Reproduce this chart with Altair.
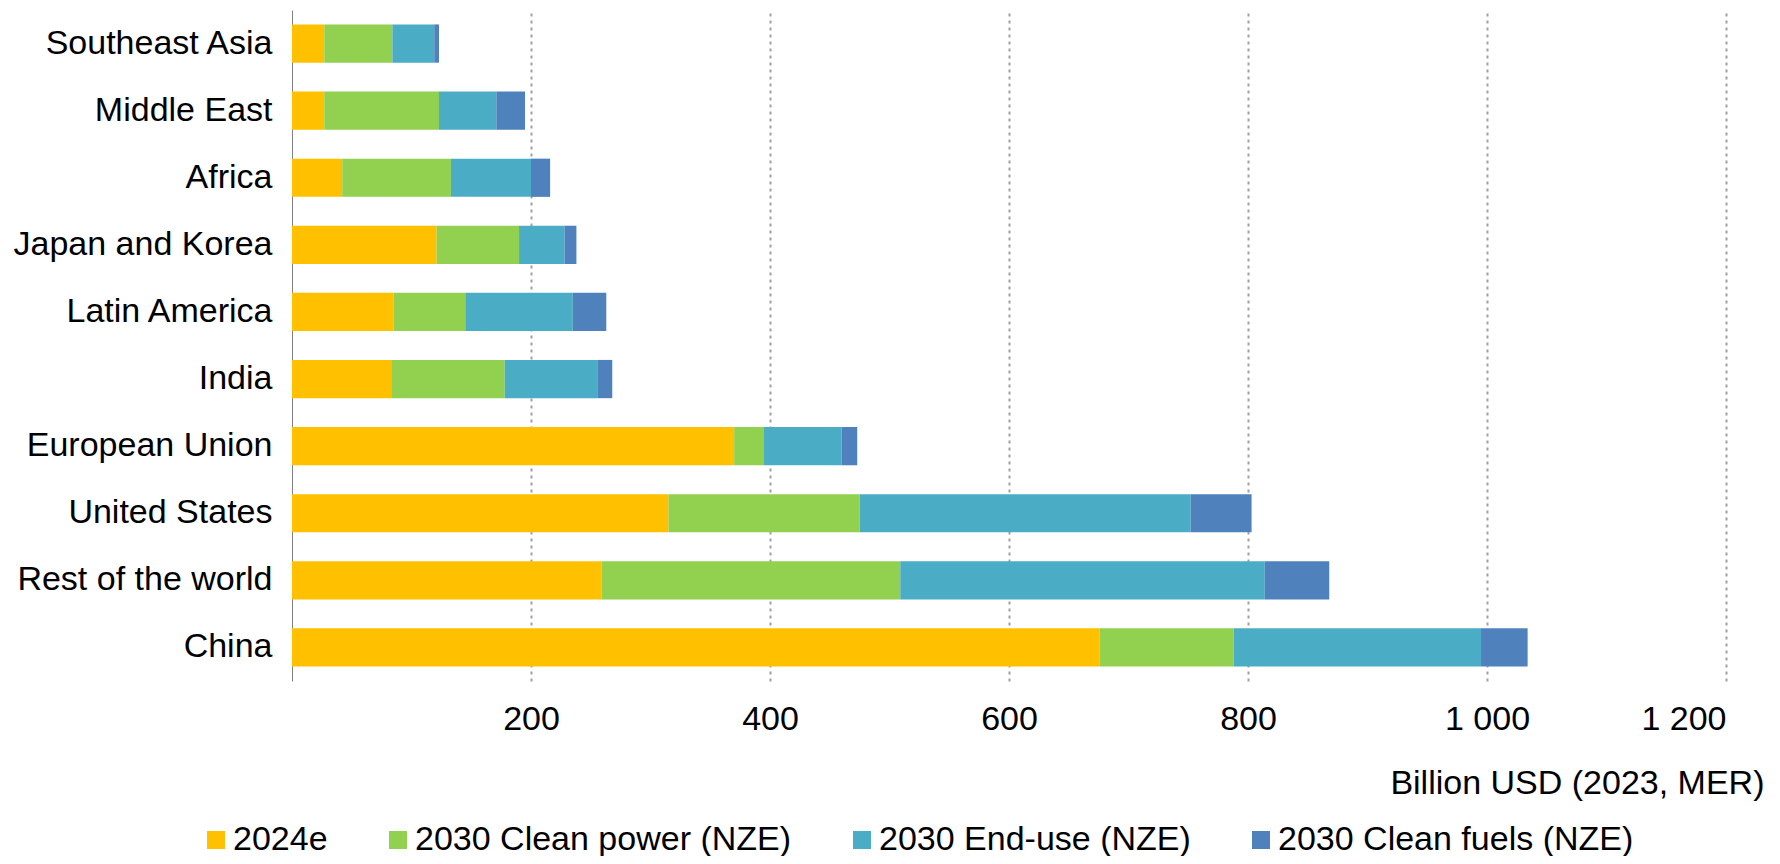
import altair as alt
import pandas as pd

regions = ["Southeast Asia", "Middle East", "Africa", "Japan and Korea", "Latin America",
           "India", "European Union", "United States", "Rest of the world", "China"]
v2024 = [27, 27, 42, 121, 85, 83, 370, 315, 259, 676]
clean_power = [57, 96, 91, 69, 60, 95, 25, 160, 250, 112]
end_use = [35, 48, 67, 38, 90, 78, 65, 277, 305, 207]
clean_fuels = [4, 24, 16, 10, 28, 12, 13, 51, 54, 39]

series = ["2024e", "2030 Clean power (NZE)", "2030 End-use (NZE)", "2030 Clean fuels (NZE)"]
colors = ["#FFC000", "#92D050", "#4BACC6", "#4F81BD"]
x_ticks = [200, 400, 600, 800, 1000, 1200]

rows = []
for i, r in enumerate(regions):
    for j, (s, vals) in enumerate(zip(series, [v2024, clean_power, end_use, clean_fuels])):
        rows.append({"region": r, "series": s, "order": j, "value": vals[i]})
df = pd.DataFrame(rows)

FONT = "Liberation Sans"

chart = alt.Chart(df).mark_bar().encode(
    x=alt.X("value:Q", stack="zero",
            scale=alt.Scale(domain=[0, 1200], nice=False),
            axis=alt.Axis(values=x_ticks, title="Billion USD (2023, MER)",
                          grid=True, gridColor="#A0A0A0", gridDash=[3, 4], gridWidth=2,
                          domain=False, ticks=False, tickSize=0,
                          labelFontSize=34, labelPadding=21, labelFont=FONT, labelColor="#000",
                          labelExpr="replace(format(datum.value, ','), ',', ' ')",
                          titleFontSize=34, titleFontWeight="normal", titleFont=FONT, titleColor="#000",
                          titleAnchor="end", titleAlign="right", titleX=1472, titleY=112,
                          titleBaseline="alphabetic")),
    y=alt.Y("region:N", sort=regions,
            scale=alt.Scale(paddingInner=0.43, paddingOuter=0.215),
            axis=alt.Axis(title=None, grid=False, domain=True, domainColor="#808080", domainWidth=1,
                          ticks=False, tickSize=0, labelFontSize=34, labelPadding=20,
                          labelFont=FONT, labelColor="#000", labelLimit=500)),
    color=alt.Color("series:N", scale=alt.Scale(domain=series, range=colors),
                    legend=alt.Legend(title=None, orient="none", direction="horizontal",
                                      legendX=-93, legendY=813, symbolType="square",
                                      symbolSize=324, symbolStrokeWidth=0,
                                      labelFontSize=34, labelFont=FONT, labelColor="#000",
                                      labelLimit=700, columnPadding=53, labelOffset=0, padding=0)),
    order=alt.Order("order:Q"),
).properties(
    width=1434, height=671,
    autosize=alt.AutoSizeParams(type="none"),
    padding={"left": 284, "top": 2, "right": 44, "bottom": 175},
).configure_view(stroke=None)

chart.save("out.html", embed_options={"renderer": "svg", "actions": False})
